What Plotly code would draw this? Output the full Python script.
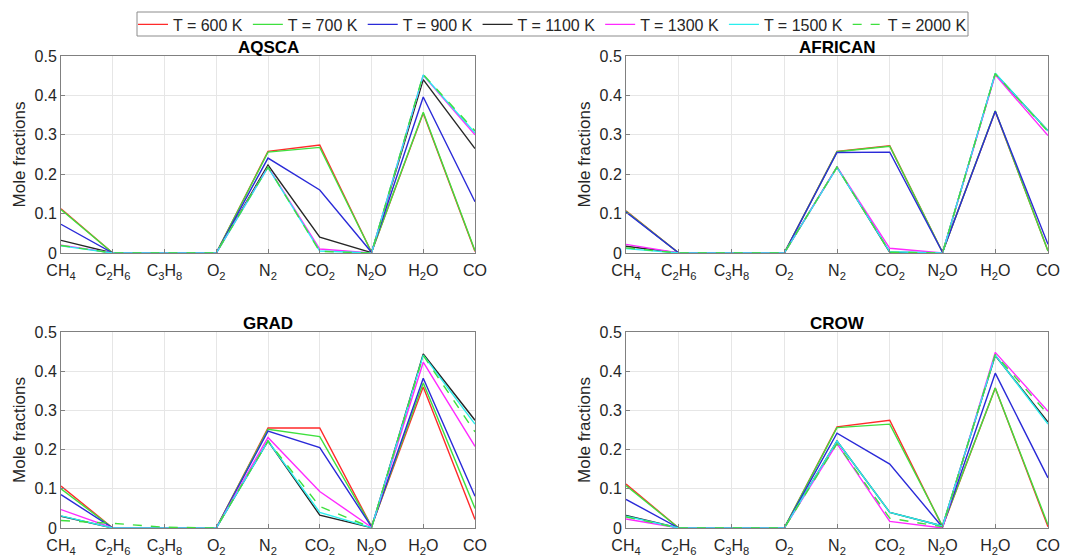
import plotly.graph_objects as go

species = ["CH<sub>4</sub>", "C<sub>2</sub>H<sub>6</sub>", "C<sub>3</sub>H<sub>8</sub>", "O<sub>2</sub>",
           "N<sub>2</sub>", "CO<sub>2</sub>", "N<sub>2</sub>O", "H<sub>2</sub>O", "CO"]
x_pos = [1, 2, 3, 4, 5, 6, 7, 8, 9]
temps = ["T = 600 K", "T = 700 K", "T = 900 K", "T = 1100 K", "T = 1300 K", "T = 1500 K", "T = 2000 K"]
colors = ["#ff2a2a", "#3ee03e", "#2a2ad8", "#262626", "#ff2aff", "#2aeeee", "#3ee03e"]
dashes = ["solid", "solid", "solid", "solid", "solid", "solid", "dash"]
panel_titles = ["AQSCA", "AFRICAN", "GRAD", "CROW"]

# AQSCA
aqsca_600 = [0.112, 0, 0, 0, 0.258, 0.274, 0.002, 0.355, 0.004]
aqsca_700 = [0.110, 0, 0, 0, 0.256, 0.268, 0.002, 0.357, 0.006]
aqsca_900 = [0.073, 0, 0, 0, 0.241, 0.160, 0.002, 0.396, 0.130]
aqsca_1100 = [0.032, 0, 0, 0, 0.223, 0.040, 0.001, 0.440, 0.265]
aqsca_1300 = [0.020, 0, 0, 0, 0.218, 0.010, 0.000, 0.451, 0.300]
aqsca_1500 = [0.018, 0, 0, 0, 0.217, 0.005, 0.000, 0.452, 0.305]
aqsca_2000 = [0.019, 0, 0, 0, 0.218, 0.004, 0.000, 0.453, 0.310]

# AFRICAN
african_600 = [0.107, 0, 0, 0, 0.258, 0.272, 0.002, 0.360, 0.005]
african_700 = [0.106, 0, 0, 0, 0.257, 0.271, 0.002, 0.361, 0.005]
african_900 = [0.104, 0, 0, 0, 0.255, 0.256, 0.002, 0.360, 0.022]
african_1100 = [0.017, 0, 0, 0, 0.218, 0.002, 0.000, 0.455, 0.310]
african_1300 = [0.022, 0, 0, 0, 0.218, 0.012, 0.000, 0.452, 0.298]
african_1500 = [0.011, 0, 0, 0, 0.217, 0.003, 0.000, 0.456, 0.310]
african_2000 = [0.013, 0, 0, 0, 0.218, 0.002, 0.000, 0.455, 0.308]

# GRAD
grad_600 = [0.107, 0, 0, 0, 0.255, 0.255, 0.004, 0.360, 0.022]
grad_700 = [0.100, 0, 0, 0, 0.252, 0.233, 0.004, 0.370, 0.050]
grad_900 = [0.085, 0, 0, 0, 0.247, 0.205, 0.003, 0.382, 0.081]
grad_1100 = [0.030, 0, 0, 0, 0.222, 0.033, 0.001, 0.444, 0.275]
grad_1300 = [0.047, 0, 0, 0, 0.231, 0.093, 0.002, 0.423, 0.208]
grad_1500 = [0.031, 0, 0, 0, 0.222, 0.040, 0.001, 0.441, 0.265]
grad_2000 = [0.019, 0.012, 0.002, 0, 0.222, 0.055, 0.001, 0.440, 0.245]

# CROW
crow_600 = [0.112, 0, 0, 0, 0.258, 0.275, 0.003, 0.357, 0.003]
crow_700 = [0.108, 0, 0, 0, 0.256, 0.265, 0.005, 0.357, 0.008]
crow_900 = [0.073, 0, 0, 0, 0.242, 0.163, 0.002, 0.395, 0.128]
crow_1100 = [0.032, 0, 0, 0, 0.222, 0.040, 0.005, 0.440, 0.270]
crow_1300 = [0.023, 0, 0, 0, 0.215, 0.017, 0.000, 0.448, 0.298]
crow_1500 = [0.030, 0, 0, 0, 0.222, 0.040, 0.005, 0.441, 0.265]
crow_2000 = [0.028, 0, 0, 0, 0.215, 0.025, 0.003, 0.443, 0.290]

panels = [
    [aqsca_600, aqsca_700, aqsca_900, aqsca_1100, aqsca_1300, aqsca_1500, aqsca_2000],
    [african_600, african_700, african_900, african_1100, african_1300, african_1500, african_2000],
    [grad_600, grad_700, grad_900, grad_1100, grad_1300, grad_1500, grad_2000],
    [crow_600, crow_700, crow_900, crow_1100, crow_1300, crow_1500, crow_2000],
]

W, H = 1069, 557
FONT = "Liberation Sans, Arial, sans-serif"

# pixel boxes (left, right, top, bottom)
boxes = [(61, 475, 56, 253), (626, 1048, 56, 253), (61, 475, 332, 528), (626, 1048, 332, 528)]

fig = go.Figure()
layout = dict(width=W, height=H, margin=dict(l=0, r=0, t=0, b=0),
              paper_bgcolor="white", plot_bgcolor="white",
              font=dict(family=FONT, color="#262626"),
              showlegend=True,
              legend=dict(orientation="h", x=552.5 / W, xanchor="center", y=1 - 24.5 / H, yanchor="middle",
                          borderwidth=0, font=dict(size=16, family=FONT, color="#262626"),
                          itemwidth=30, tracegroupgap=0, bgcolor="rgba(0,0,0,0)"),
              shapes=[dict(type="rect", xref="paper", yref="paper",
                           x0=137 / W, x1=968 / W, y0=1 - 36 / H, y1=1 - 12 / H,
                           line=dict(color="#8c8c8c", width=1), fillcolor="rgba(0,0,0,0)", layer="above")],
              annotations=[])

for p, (series, box) in enumerate(zip(panels, boxes)):
    idx = "" if p == 0 else str(p + 1)
    l, r, t, b = box
    xd = [l / W, r / W]
    yd = [(H - b) / H, (H - t) / H]
    for k, ys in enumerate(series):
        fig.add_trace(go.Scatter(
            x=x_pos, y=ys, mode="lines", name=temps[k],
            line=dict(color=colors[k], width=1.4, dash=dashes[k]),
            xaxis="x" + idx, yaxis="y" + idx, showlegend=(p == 0), legendgroup=temps[k]))
    layout["xaxis" + idx] = dict(domain=xd, anchor="y" + idx, range=[1, 9], tickmode="array",
                                 tickvals=x_pos, ticktext=species, showgrid=True, gridcolor="#e6e6e6",
                                 showline=True, linecolor="#808080", linewidth=1, mirror=True,
                                 ticks="inside", ticklen=4, tickcolor="#808080", zeroline=False,
                                 ticklabelstandoff=3,
                                 tickfont=dict(size=16, family=FONT, color="#262626"), automargin=False,
                                 fixedrange=True)
    layout["yaxis" + idx] = dict(domain=yd, anchor="x" + idx, range=[0, 0.5], tickmode="array",
                                 tickvals=[0, 0.1, 0.2, 0.3, 0.4, 0.5],
                                 ticktext=["0", "0.1", "0.2", "0.3", "0.4", "0.5"],
                                 showgrid=True, gridcolor="#e6e6e6", showline=True, linecolor="#808080",
                                 linewidth=1, mirror=True, ticks="inside", ticklen=4, tickcolor="#808080",
                                 zeroline=False, tickfont=dict(size=16, family=FONT, color="#262626"),
                                 title=dict(text="Mole fractions", font=dict(size=17, family=FONT, color="#262626"),
                                            standoff=4),
                                 automargin=False, fixedrange=True)
    layout["annotations"].append(dict(text="<b>%s</b>" % panel_titles[p], xref="paper", yref="paper",
                                      x=(l + r) / 2 / W, y=(H - (t - 9)) / H, xanchor="center",
                                      yanchor="middle", showarrow=False,
                                      font=dict(size=17, family=FONT, color="#000000")))

fig.update_layout(**layout)
fig.write_html("out.html")
